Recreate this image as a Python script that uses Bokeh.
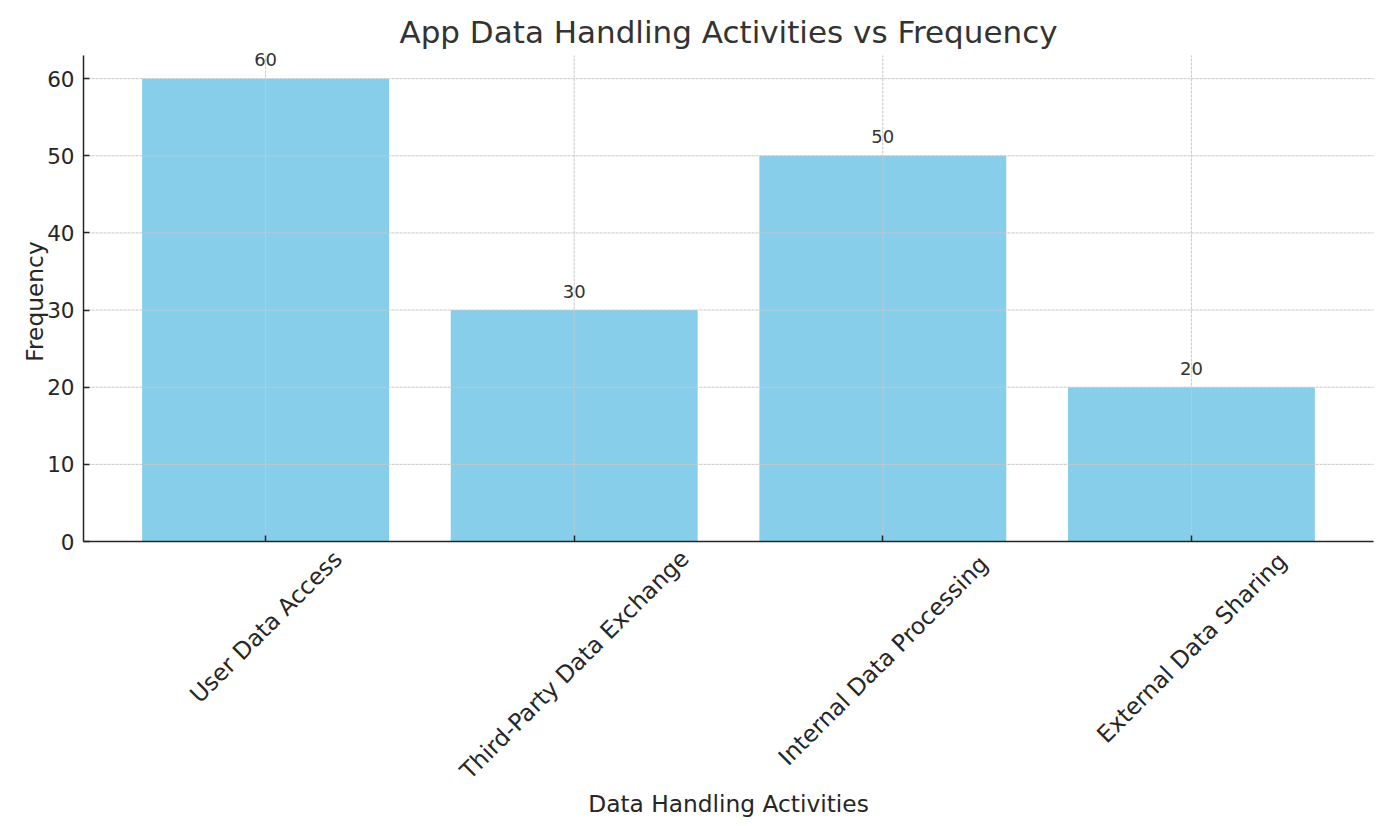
import math
from bokeh.plotting import figure
from bokeh.models import Range1d, FixedTicker, ColumnDataSource
from bokeh.core.properties import value
from bokeh.embed import file_html
from bokeh.resources import INLINE

categories = ["User Data Access", "Third-Party Data Exchange", "Internal Data Processing", "External Data Sharing"]
frequency = [60, 30, 50, 20]
y_ticks = [0, 10, 20, 30, 40, 50, 60]
title_text = "App Data Handling Activities vs Frequency"
x_label = "Data Handling Activities"
y_label = "Frequency"

FONT = "DejaVu Sans"
W, H = 1386, 826
# plot area (axes box) in canvas pixels, and its data limits
FL, FR, FT, FB = 83, 1373, 55, 541
n = len(categories)
XLO, XHI = -0.59, n - 1 + 0.59
YLO, YHI = 0.0, 63.0
sx = (XHI - XLO) / (FR - FL)
sy = (YHI - YLO) / (FB - FT)
BASE_FIX = 0.39  # baseline correction (fraction of font size) for alphabetic text


def px2x(px):
    return XLO + (px - FL) * sx


def py2y(py):
    return YLO + (FB - py) * sy


xs = list(range(n))

p = figure(width=W, height=H, output_backend="svg", toolbar_location=None,
           x_range=Range1d(px2x(0), px2x(W)), y_range=Range1d(py2y(H), py2y(0)),
           min_border_left=0, min_border_right=0, min_border_top=0, min_border_bottom=0)
p.outline_line_color = None
p.background_fill_color = "white"
p.border_fill_color = "white"
p.grid.visible = False

src = ColumnDataSource(dict(x=xs, top=frequency, lab=[str(v) for v in frequency]))
p.vbar(x="x", top="top", width=0.8, bottom=0, source=src, fill_color="#87CEEB", line_color=None)

# dashed grid, drawn over the bars, limited to the axes box
GRID = dict(line_color="#c8c8c8", line_dash="3 1", line_width=1)
p.segment(x0=[XLO] * len(y_ticks), y0=y_ticks, x1=[XHI] * len(y_ticks), y1=y_ticks, **GRID)
p.segment(x0=xs, y0=[YLO] * n, x1=xs, y1=[YHI] * n, **GRID)

# axes fixed at the box edges
p.yaxis.fixed_location = XLO
p.xaxis.fixed_location = YLO
p.yaxis.bounds = (YLO, YHI)
p.xaxis.bounds = (XLO, XHI)
p.yaxis.ticker = FixedTicker(ticks=y_ticks)
p.xaxis.ticker = FixedTicker(ticks=xs)
p.xaxis.major_label_overrides = {i: "" for i in xs}
for ax in (p.xaxis, p.yaxis):
    ax.axis_line_color = "#262626"
    ax.axis_line_width = 1.5
    ax.major_tick_line_color = "#262626"
    ax.major_tick_line_width = 1.5
    ax.major_tick_out = 0
    ax.major_tick_in = 6
    ax.minor_tick_line_color = None
    ax.major_label_text_font = FONT
    ax.major_label_text_font_size = "21.5px"
    ax.major_label_text_color = "#262626"
    ax.major_label_standoff = 9

TXT = "#262626"
VAL = 18
# value labels above bars
p.text(x=xs, y=[v + (12 + BASE_FIX * VAL) * sy for v in frequency], text=[str(v) for v in frequency],
       text_font=value(FONT), text_font_size=value(f"{VAL}px"), text_color="#333333",
       text_align="center", text_baseline="alphabetic")

# rotated category labels, centred under their ticks (matplotlib style)
LBL = 23.3
char_w = 0.511 * LBL
line_h = 1.16 * LBL
cy = [py2y(FB + 8 + (char_w * len(c) + line_h) * math.sin(math.pi / 4) / 2) for c in categories]
p.text(x=xs, y=cy, text=categories, angle=math.pi / 4, text_font=value(FONT),
       text_font_size=value(f"{LBL}px"), text_color=TXT, text_align="center", text_baseline="middle")

# axis labels
p.text(x=[(XLO + XHI) / 2], y=[py2y(812 - BASE_FIX * LBL)], text=[x_label], text_font=value(FONT),
       text_font_size=value(f"{LBL}px"), text_color=TXT, text_align="center", text_baseline="alphabetic")
p.text(x=[px2x(43 - BASE_FIX * LBL)], y=[py2y(301)], text=[y_label], angle=math.pi / 2, text_font=value(FONT),
       text_font_size=value(f"{LBL}px"), text_color=TXT, text_align="center", text_baseline="alphabetic")

# title
TT = 31
p.text(x=[(XLO + XHI) / 2], y=[py2y(44 - BASE_FIX * TT)], text=[title_text], text_font=value(FONT),
       text_font_size=value(f"{TT}px"), text_color="#333333", text_align="center", text_baseline="alphabetic")

open("out.html", "w").write(file_html(p, INLINE))
